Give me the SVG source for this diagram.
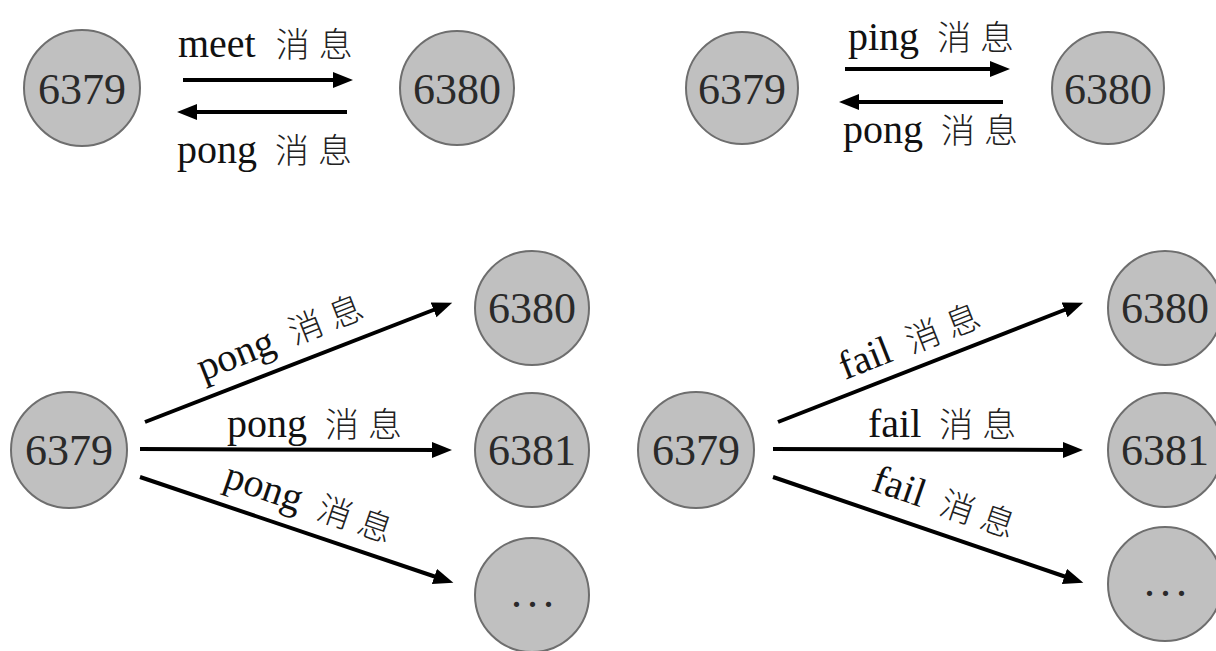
<svg xmlns="http://www.w3.org/2000/svg" width="1216" height="651" viewBox="0 0 1216 651">
<style>
.node circle{fill:#c0c0c0;stroke:#6e6e6e;stroke-width:2}
.num{font-family:"Liberation Serif","DejaVu Serif",serif;font-size:44px;fill:#2a2a2a;text-anchor:middle}
.dots{font-family:"Liberation Serif","DejaVu Serif",serif;font-size:44px;fill:#2a2a2a;text-anchor:middle;letter-spacing:5px}
.edge{stroke:#000;stroke-width:4;fill:none;marker-end:url(#ah)}
.lbl{font-family:"Liberation Serif","DejaVu Serif",serif;font-size:40px;fill:#111}
.cj{font-family:"Noto Sans CJK SC","Noto Sans CJK JP",sans-serif;font-size:34px;font-weight:300;letter-spacing:9px;fill:#222}
</style>
<defs>
<marker id="ah" markerUnits="userSpaceOnUse" markerWidth="22" markerHeight="18" refX="8" refY="8" orient="auto">
<path d="M0,0 L20,8 L0,16 z" fill="#000"/>
</marker>
</defs>
<rect width="1216" height="651" fill="#fff"/>

<g id="connectors">
<line class="edge" x1="183" y1="80" x2="341" y2="80"/>
<line class="edge" x1="347" y1="112" x2="189" y2="112"/>
<line class="edge" x1="845" y1="69" x2="998" y2="69"/>
<line class="edge" x1="1003" y1="102" x2="851" y2="102"/>
<line class="edge" x1="145" y1="422" x2="441" y2="307"/>
<line class="edge" x1="140" y1="449" x2="440" y2="450"/>
<line class="edge" x1="140" y1="477" x2="442" y2="579"/>
<line class="edge" x1="778" y1="422" x2="1072" y2="307"/>
<line class="edge" x1="773" y1="449" x2="1071" y2="450"/>
<line class="edge" x1="773" y1="477" x2="1072" y2="579"/>
</g>

<g id="labels">
<text class="lbl" x="178" y="57">meet <tspan class="cj" dx="10">消息</tspan></text>
<text class="lbl" x="177" y="163">pong <tspan class="cj" dx="8">消息</tspan></text>
<text class="lbl" x="848" y="50">ping <tspan class="cj" dx="8">消息</tspan></text>
<text class="lbl" x="843" y="143">pong <tspan class="cj" dx="8">消息</tspan></text>
<text class="lbl" transform="translate(203,381) rotate(-21.5)">pong <tspan class="cj" dx="8">消息</tspan></text>
<text class="lbl" x="227" y="437">pong <tspan class="cj" dx="8">消息</tspan></text>
<text class="lbl" transform="translate(222,486) rotate(19)">pong <tspan class="cj" dx="8">消息</tspan></text>
<text class="lbl" transform="translate(845,380) rotate(-21.5)">fail <tspan class="cj" dx="8">消息</tspan></text>
<text class="lbl" x="868" y="437">fail <tspan class="cj" dx="8">消息</tspan></text>
<text class="lbl" transform="translate(870,490) rotate(19)">fail <tspan class="cj" dx="8">消息</tspan></text>
</g>

<g id="tl-6379" class="node"><circle cx="82" cy="88" r="58"/><text class="num" x="82" y="104">6379</text></g>
<g id="tl-6380" class="node"><circle cx="457" cy="88" r="57"/><text class="num" x="457" y="104">6380</text></g>
<g id="tr-6379" class="node"><circle cx="742" cy="88" r="56"/><text class="num" x="742" y="104">6379</text></g>
<g id="tr-6380" class="node"><circle cx="1108" cy="88" r="56"/><text class="num" x="1108" y="104">6380</text></g>

<g id="bl-6379" class="node"><circle cx="69" cy="450" r="58"/><text class="num" x="69" y="465">6379</text></g>
<g id="bl-6380" class="node"><circle cx="532" cy="308" r="57"/><text class="num" x="532" y="323">6380</text></g>
<g id="bl-6381" class="node"><circle cx="532" cy="450" r="57"/><text class="num" x="532" y="465">6381</text></g>
<g id="bl-more" class="node"><circle cx="532" cy="595" r="57"/><text class="dots" x="535" y="607">...</text></g>

<g id="br-6379" class="node"><circle cx="696" cy="450" r="58"/><text class="num" x="696" y="465">6379</text></g>
<g id="br-6380" class="node"><circle cx="1165" cy="308" r="57"/><text class="num" x="1165" y="323">6380</text></g>
<g id="br-6381" class="node"><circle cx="1165" cy="450" r="57"/><text class="num" x="1165" y="465">6381</text></g>
<g id="br-more" class="node"><circle cx="1165" cy="584" r="57"/><text class="dots" x="1168" y="596">...</text></g>
</svg>
